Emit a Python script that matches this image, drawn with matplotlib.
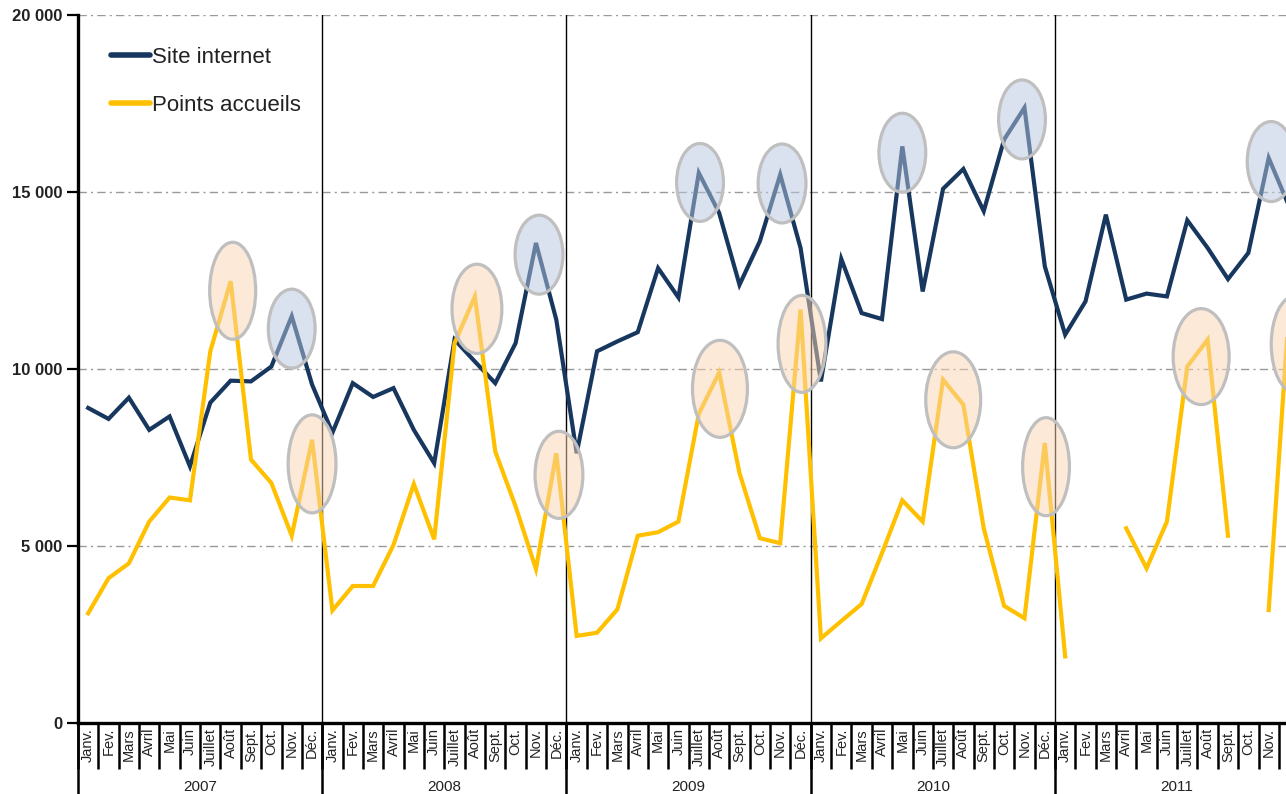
import matplotlib.pyplot as plt
from matplotlib.patches import Ellipse
import numpy as np

plt.rcParams['font.family'] = ['Liberation Sans', 'DejaVu Sans']

nan = np.nan

months = ["Janv.", "Fev.", "Mars", "Avril", "Mai", "Juin",
          "Juillet", "Août", "Sept.", "Oct.", "Nov.", "Déc."]
years = ["2007", "2008", "2009", "2010", "2011"]

# monthly visits, jan 2007 -> dec 2011
site_internet = [
    8900, 8590, 9190, 8280, 8660, 7250, 9050, 9670, 9650, 10070, 11490, 9560,
    8200, 9600, 9210, 9460, 8280, 7340, 10830, 10210, 9600, 10730, 13560, 11390,
    7620, 10500, 10780, 11040, 12850, 12020, 15540, 14410, 12380, 13610, 15490, 13420,
    9650, 13110, 11580, 11410, 16290, 12190, 15090, 15650, 14460, 16480, 17380, 12900,
    10970, 11910, 14360, 11960, 12130, 12050, 14200, 13420, 12540, 13280, 15960, 14600,
]
points_accueils = [
    3100, 4090, 4510, 5690, 6370, 6290, 10500, 12480, 7440, 6780, 5290, 8000,
    3180, 3870, 3870, 5030, 6750, 5190, 10730, 12050, 7670, 6120, 4350, 7620,
    2460, 2550, 3210, 5290, 5390, 5690, 8730, 9900, 7060, 5220, 5080, 11680,
    2390, 2880, 3360, 4800, 6290, 5690, 9700, 8990, 5500, 3310, 2960, 7910,
    1880, nan, nan, 5500, 4370, 5690, 10070, 10830, 5290, nan, 3190, 11700,
]

# peaks to circle: (series, month index, x shift, drop below peak, height, width)
highlights = [
    ("pa", 7, 0.1, 270, 2740, 2.26),
    ("si", 10, 0.0, 350, 2230, 2.3),
    ("pa", 11, 0.0, 680, 2770, 2.35),
    ("pa", 19, 0.1, 350, 2520, 2.45),
    ("si", 22, 0.15, 330, 2230, 2.35),
    ("pa", 23, 0.13, 610, 2460, 2.35),
    ("si", 30, 0.06, 270, 2200, 2.3),
    ("pa", 31, 0.04, 460, 2740, 2.7),
    ("si", 34, 0.09, 250, 2230, 2.35),
    ("pa", 35, 0.07, 970, 2740, 2.35),
    ("si", 40, 0.0, 180, 2230, 2.3),
    ("pa", 42, 0.5, 570, 2710, 2.7),
    ("si", 46, -0.12, 330, 2230, 2.3),
    ("pa", 47, 0.06, 670, 2770, 2.3),
    ("pa", 55, -0.32, 480, 2710, 2.75),
    ("si", 58, 0.12, 100, 2260, 2.35),
    ("pa", 59, 0.3, 1000, 2740, 2.35),
]

navy = '#17375E'
gold = '#FFC000'

fig = plt.figure(figsize=(12.86, 7.94), dpi=100)
ax = fig.add_axes([78 / 1286, 71 / 794, 1 - 78 / 1286, 708 / 794])

x = np.arange(len(site_internet)) + 0.5
ax.plot(x, site_internet, color=navy, lw=3.0, solid_joinstyle='miter', label="Site internet", zorder=3)
ax.plot(x, points_accueils, color=gold, lw=3.0, solid_joinstyle='miter', label="Points accueils", zorder=4)

series = {"si": site_internet, "pa": points_accueils}
fills = {"si": (0.72, 0.78, 0.88, 0.5), "pa": (0.98, 0.83, 0.70, 0.5)}
for key, i, dx, drop, h, w in highlights:
    e = Ellipse((x[i] + dx, series[key][i] - drop), w, h,
                facecolor=fills[key], edgecolor='#BFBFBF', lw=2.3, zorder=5)
    ax.add_patch(e)

xmax = 59.35
ax.set_ylim(0, 20000)
ax.set_xlim(0, xmax)
ax.set_yticks([0, 5000, 10000, 15000, 20000])
ax.set_yticklabels(["0", "5 000", "10 000", "15 000", "20 000"], fontweight='bold', fontsize=12)
ax.yaxis.grid(True, color='#999999', lw=1.0, linestyle=(0, (6, 3, 1.5, 3)))
ax.set_axisbelow(True)
ax.tick_params(axis='y', length=8, width=1.6, pad=3, colors='black', labelcolor='#222222')

ax.spines['top'].set_visible(False)
ax.spines['right'].set_visible(False)
ax.spines['left'].set_linewidth(2.4)
ax.spines['bottom'].set_linewidth(2.4)

# month separators under the axis
ax.set_xticks(np.arange(0, 60))
ax.set_xticklabels([])
ax.tick_params(axis='x', length=33, width=1.8, direction='out')

trans = ax.get_xaxis_transform()
n = len(site_internet)
for i in range(n):
    if x[i] > xmax:
        continue
    ax.text(x[i], -0.007, months[i % 12], transform=trans, rotation=90,
            ha='center', va='top', fontsize=10.5, color='#222222', clip_on=False)

# year boundaries: thin line through the plot, separator below
for k in range(len(years)):
    b = 12 * k
    if k > 0:
        ax.axvline(b, color='black', lw=1.0, zorder=2)
    ax.plot([b, b], [0, -0.12], transform=trans, color='black', lw=1.8, clip_on=False)
    ax.text(b + 6, -0.09, years[k], transform=trans, ha='center', va='center',
            fontsize=11, color='#222222', clip_on=False)

leg = ax.legend(loc='upper left', bbox_to_anchor=(0.011, 0.983), frameon=False,
                fontsize=16, handlelength=1.75, handletextpad=0.1, labelspacing=1.2)
for line in leg.get_lines():
    line.set_linewidth(4)
    line.set_solid_capstyle('round')
for t in leg.get_texts():
    t.set_color('#222222')

fig.savefig('out.png', dpi=100)
